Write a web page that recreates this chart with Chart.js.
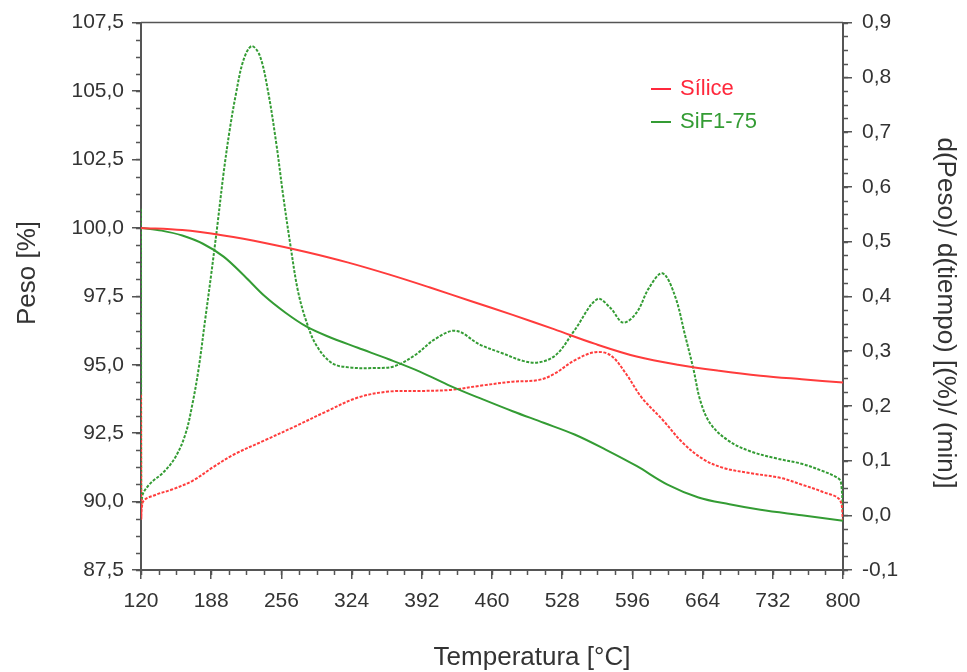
<!DOCTYPE html>
<html>
<head>
<meta charset="utf-8">
<script src="https://cdn.jsdelivr.net/npm/chart.js@4.4.1/dist/chart.umd.min.js"></script>
<style>
  body { margin: 0; background: #fff; }
  #wrap { width: 967px; height: 672px; position: relative; }
</style>
</head>
<body>
<div id="wrap"><canvas id="graficoTGA"></canvas></div>
<script>
// Peso (%) frente a temperatura (°C)
const tempPesoSilice = [120, 160, 200, 240, 280, 320, 360, 400, 440, 480, 520, 560, 600, 640, 680, 720, 760, 800];
const pesoSilice     = [100.0, 99.92, 99.72, 99.45, 99.12, 98.74, 98.3, 97.82, 97.32, 96.82, 96.3, 95.76, 95.3, 95.0, 94.78, 94.6, 94.47, 94.35];

const tempPesoSiF = [120, 140, 160, 180, 200, 220, 240, 260, 280, 300, 330, 360, 390, 420, 450, 480, 510, 540, 570, 600, 630, 660, 690, 720, 760, 800];
const pesoSiF     = [100.0, 99.9, 99.72, 99.42, 98.95, 98.25, 97.5, 96.9, 96.4, 96.05, 95.62, 95.2, 94.75, 94.22, 93.75, 93.3, 92.88, 92.45, 91.9, 91.3, 90.62, 90.15, 89.9, 89.7, 89.5, 89.3];

// Derivadas d(Peso)/d(tiempo)
const tempDerSilice = [120, 120.3, 122, 135, 150, 170, 190, 210, 240, 270, 300, 330, 360, 390, 420, 450, 480, 505, 520, 540, 560, 575, 590, 605, 625, 645, 665, 685, 710, 740, 760, 780, 797, 800];
const derSilice     = [0.22, -0.005, 0.025, 0.038, 0.047, 0.063, 0.088, 0.111, 0.137, 0.163, 0.19, 0.215, 0.226, 0.227, 0.229, 0.237, 0.244, 0.247, 0.258, 0.283, 0.298, 0.292, 0.258, 0.215, 0.175, 0.132, 0.102, 0.086, 0.077, 0.068, 0.056, 0.043, 0.028, -0.009];

const tempDerSiF = [120, 120.3, 122, 130, 141, 153, 163, 170, 176, 182, 188, 194, 200, 206, 212, 219, 227, 235, 243, 251, 258, 265, 272, 280, 290, 305, 322, 345, 365, 385, 405, 425, 448, 470, 490, 505, 522, 540, 562, 575, 587, 600, 612, 625, 637, 647, 655, 662, 672, 690, 710, 735, 760, 780, 795, 798, 800];
const derSiF     = [0.56, 0.02, 0.04, 0.06, 0.077, 0.105, 0.148, 0.205, 0.27, 0.355, 0.44, 0.53, 0.625, 0.705, 0.77, 0.83, 0.857, 0.84, 0.775, 0.68, 0.58, 0.49, 0.41, 0.355, 0.31, 0.278, 0.27, 0.269, 0.272, 0.292, 0.322, 0.337, 0.312, 0.296, 0.282, 0.279, 0.293, 0.338, 0.395, 0.378, 0.352, 0.37, 0.415, 0.442, 0.402, 0.329, 0.268, 0.208, 0.166, 0.135, 0.117, 0.104, 0.094, 0.081, 0.068, 0.06, 0.005];

const rojo = 'rgb(255, 60, 60)';
const verde = 'rgb(52, 156, 52)';
const gris = '#555';
const fuente = "'Liberation Sans', Arial, sans-serif";

const puntos = (xs, ys) => xs.map((x, i) => ({ x: x, y: ys[i] }));
const coma = (v, d) => v.toFixed(d).replace('.', ',');

// Marcas menores, marco superior, leyenda y títulos de ejes
const extras = {
    id: 'extras',
    afterDraw(chart) {
        const { ctx, chartArea: a, scales } = chart;
        ctx.save();
        ctx.strokeStyle = gris;
        ctx.lineWidth = 1.5;
        ctx.beginPath();
        ctx.moveTo(a.left, a.top);
        ctx.lineTo(a.right, a.top);
        for (let v = 87.5; v <= 107.5 + 1e-6; v += 0.625) {
            const y = Math.round(scales.y.getPixelForValue(v)) + 0.5;
            ctx.moveTo(a.left - 5, y);
            ctx.lineTo(a.left, y);
        }
        for (let i = 0; i <= 40; i++) {
            const y = Math.round(scales.y2.getPixelForValue(-0.1 + i * 0.025)) + 0.5;
            ctx.moveTo(a.right, y);
            ctx.lineTo(a.right + 5, y);
        }
        for (let v = 120; v <= 800; v += 17) {
            const x = Math.round(scales.x.getPixelForValue(v)) + 0.5;
            ctx.moveTo(x, a.bottom);
            ctx.lineTo(x, a.bottom + 5);
        }
        ctx.stroke();

        // leyenda
        const series = [['Sílice', 'rgb(255, 40, 60)', 89], ['SiF1-75', verde, 122]];
        ctx.font = '22px ' + fuente;
        ctx.textBaseline = 'middle';
        ctx.textAlign = 'left';
        series.forEach(([txt, col, y]) => {
            ctx.strokeStyle = col;
            ctx.lineWidth = 2;
            ctx.beginPath();
            ctx.moveTo(651, y);
            ctx.lineTo(671, y);
            ctx.stroke();
            ctx.fillStyle = col;
            ctx.fillText(txt, 680, y);
        });

        // títulos
        ctx.fillStyle = '#333';
        ctx.font = '26px ' + fuente;
        ctx.textAlign = 'center';
        ctx.fillText('Temperatura [°C]', 532, 658);
        ctx.save();
        ctx.translate(28, 273);
        ctx.rotate(-Math.PI / 2);
        ctx.fillText('Peso [%]', 0, 0);
        ctx.restore();
        ctx.save();
        ctx.translate(945, 313);
        ctx.rotate(Math.PI / 2);
        ctx.fillText('d(Peso)/ d(tiempo) [(%)/ (min)]', 0, 0);
        ctx.restore();
        ctx.restore();
    }
};

const ejeComun = {
    grid: { drawOnChartArea: false, drawTicks: true, tickLength: 9, color: gris, lineWidth: 1.5 },
    border: { display: true, color: gris, width: 2 }
};

const ctx = document.getElementById('graficoTGA').getContext('2d');
new Chart(ctx, {
    type: 'line',
    data: {
        datasets: [
            {
                label: 'Sílice',
                data: puntos(tempPesoSilice, pesoSilice),
                yAxisID: 'y',
                borderColor: rojo,
                borderWidth: 2
            },
            {
                label: 'SiF1-75',
                data: puntos(tempPesoSiF, pesoSiF),
                yAxisID: 'y',
                borderColor: verde,
                borderWidth: 2
            },
            {
                label: 'Sílice (derivada)',
                data: puntos(tempDerSilice, derSilice),
                yAxisID: 'y2',
                borderColor: rojo,
                borderWidth: 2,
                borderDash: [3, 1.5]
            },
            {
                label: 'SiF1-75 (derivada)',
                data: puntos(tempDerSiF, derSiF),
                yAxisID: 'y2',
                borderColor: verde,
                borderWidth: 2,
                borderDash: [3, 1.5]
            }
        ]
    },
    options: {
        responsive: true,
        maintainAspectRatio: false,
        animation: false,
        layout: { padding: { top: 18 } },
        elements: {
            point: { radius: 0 },
            line: { tension: 0.35, fill: false }
        },
        plugins: {
            legend: { display: false },
            tooltip: { enabled: false }
        },
        scales: {
            x: {
                type: 'linear',
                min: 120,
                max: 800,
                ...ejeComun,
                ticks: { stepSize: 68, padding: 10, color: '#333', font: { family: fuente, size: 21 } },
                afterFit: s => { s.height = 102; }
            },
            y: {
                position: 'left',
                min: 87.5,
                max: 107.5,
                ...ejeComun,
                ticks: { stepSize: 2.5, padding: 8, color: '#333', font: { family: fuente, size: 21 },
                         callback: v => coma(v, 1) },
                afterFit: s => { s.width = 141; }
            },
            y2: {
                position: 'right',
                min: -0.1,
                max: 0.9,
                ...ejeComun,
                ticks: { stepSize: 0.1, padding: 10, color: '#333', font: { family: fuente, size: 21 },
                         callback: v => coma(v, 1) },
                afterFit: s => { s.width = 124; }
            }
        }
    },
    plugins: [extras]
});
</script>
</body>
</html>
